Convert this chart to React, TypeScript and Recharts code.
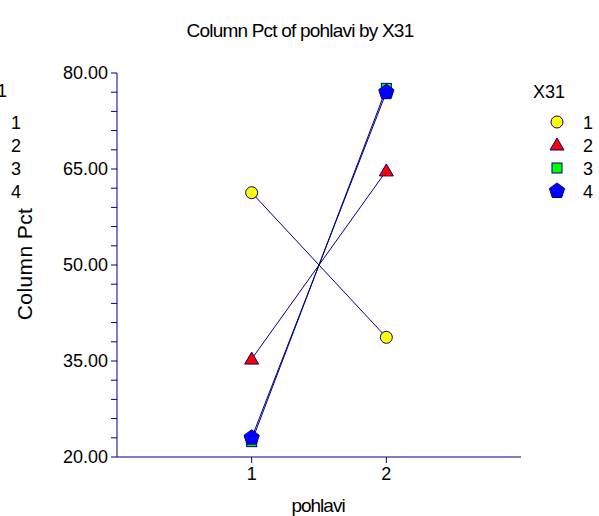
import React from 'react';
import { LineChart, Line, XAxis, YAxis } from 'recharts';

const pohlavi = [1, 2];
const x31Levels = ['1', '2', '3', '4'];
const pct1 = [61.3, 38.7];
const pct2 = [35.3, 64.7];
const pct3 = [22.4, 77.6];
const pct4 = [23.0, 77.0];
const yTicks = [20, 23, 26, 29, 32, 35, 38, 41, 44, 47, 50, 53, 56, 59, 62, 65, 68, 71, 74, 77, 80];
const yMajor = [20, 35, 50, 65, 80];
const xTicks = [1, 2];

const NAVY = '#000080';
const FONT = '"Liberation Sans", Arial, sans-serif';

const toRows = (vals: number[]) => pohlavi.map((p, i) => ({ x: p, y: vals[i] }));

const Marker = ({ kind, cx, cy }: { kind: number; cx: number; cy: number }) => {
  if (kind === 0) return <circle cx={cx} cy={cy} r={6} fill="#ffff00" stroke={NAVY} strokeWidth={1} />;
  if (kind === 1)
    return (
      <polygon
        points={`${cx},${cy - 7} ${cx + 7},${cy + 5} ${cx - 7},${cy + 5}`}
        fill="#ff0000"
        stroke={NAVY}
        strokeWidth={1}
      />
    );
  if (kind === 2) return <rect x={cx - 5} y={cy - 5} width={10} height={10} fill="#00ff00" stroke={NAVY} strokeWidth={1} />;
  const pts = [0, 1, 2, 3, 4]
    .map(k => {
      const a = -Math.PI / 2 + (k * 2 * Math.PI) / 5;
      return `${cx + 8 * Math.cos(a)},${cy + 8 * Math.sin(a)}`;
    })
    .join(' ');
  return <polygon points={pts} fill="#0000ff" stroke={NAVY} strokeWidth={1} />;
};

const series = [pct1, pct2, pct3, pct4];

const YTick = ({ x, y, payload }: any) => {
  if (!yMajor.includes(payload.value)) return null;
  return (
    <text x={x} y={y} dy={6} textAnchor="end" fontSize={18} fontFamily={FONT} fill="#000">
      {payload.value.toFixed(2)}
    </text>
  );
};

const App: React.FC = () => {
  return (
    <div style={{ position: 'absolute', left: 0, top: 0, width: 599, height: 516, background: '#fff', fontFamily: FONT }}>
      <LineChart width={599} height={516} data={toRows(pct1)} margin={{ top: 73, right: 78, left: 57, bottom: 29 }}>
        <XAxis
          type="number"
          dataKey="x"
          domain={[0, 3]}
          ticks={xTicks}
          allowDataOverflow
          height={30}
          stroke={NAVY}
          tickSize={6}
          tickMargin={4}
          tick={{ fill: '#000', fontSize: 18, fontFamily: FONT }}
        />
        <YAxis
          type="number"
          dataKey="y"
          domain={[20, 80]}
          ticks={yTicks}
          interval={0}
          width={60}
          stroke={NAVY}
          tickSize={6}
          tickMargin={3}
          tick={<YTick />}
        />
        {series.map((vals, i) => (
          <Line
            key={x31Levels[i]}
            data={toRows(vals)}
            dataKey="y"
            stroke={NAVY}
            strokeWidth={1}
            isAnimationActive={false}
            dot={(p: any) => <Marker key={`m${i}-${p.index}`} kind={i} cx={p.cx} cy={p.cy} />}
            activeDot={false}
          />
        ))}
      </LineChart>
      <svg width={599} height={516} style={{ position: 'absolute', left: 0, top: 0, pointerEvents: 'none' }}>
        <text x={300} y={37} textAnchor="middle" fontSize={19} letterSpacing={-0.8} fontFamily={FONT}>
          Column Pct of pohlavi by X31
        </text>
        <text x={318} y={512} textAnchor="middle" fontSize={19} letterSpacing={-1} fontFamily={FONT}>
          pohlavi
        </text>
        <text transform="translate(32,264) rotate(-90)" textAnchor="middle" fontSize={21} letterSpacing={0.4} fontFamily={FONT}>
          Column Pct
        </text>
        <text x={-25} y={97} fontSize={18} fontFamily={FONT}>X31</text>
        {x31Levels.map((lv, i) => (
          <text key={`l${lv}`} x={11} y={129 + i * 23} fontSize={18} fontFamily={FONT}>
            {lv}
          </text>
        ))}
        <text x={533} y={98} fontSize={18} fontFamily={FONT}>X31</text>
        {x31Levels.map((lv, i) => (
          <g key={`r${lv}`}>
            <Marker kind={i} cx={557} cy={122 + i * 23} />
            <text x={583} y={129 + i * 23} fontSize={18} fontFamily={FONT}>
              {lv}
            </text>
          </g>
        ))}
      </svg>
    </div>
  );
};

export default App;
